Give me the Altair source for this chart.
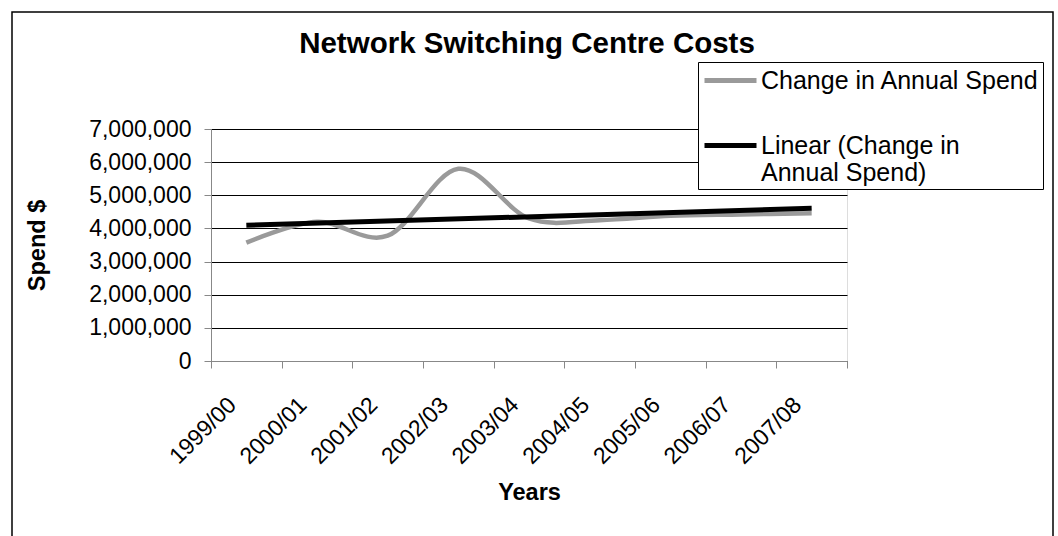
import json
import altair as alt
import pandas as pd

categories = ["1999/00", "2000/01", "2001/02", "2002/03", "2003/04",
              "2004/05", "2005/06", "2006/07", "2007/08"]
spend = [3570000, 4200000, 3780000, 5800000, 4300000,
         4250000, 4380000, 4420000, 4460000]
y_ticks = [0, 1000000, 2000000, 3000000, 4000000, 5000000, 6000000, 7000000]
x_ticks = list(range(len(categories) + 1))
series_names = ["Change in Annual Spend", "Linear (Change in Annual Spend)"]
series_colors = ["#9a9a9a", "#000000"]

df = pd.DataFrame({"idx": list(range(len(categories))), "year": categories, "spend": spend})

FONT = "Liberation Sans"
n = len(categories)
label_expr = f"datum.value < {n} ? {json.dumps(categories)}[datum.value] : ''"
legend_label_expr = (
    f"datum.label == '{series_names[1]}' ? ['Linear (Change in', 'Annual Spend)'] : datum.label"
)

x_enc = alt.X(
    "pos:Q",
    scale=alt.Scale(domain=[0, n], nice=False, zero=False),
    axis=alt.Axis(
        values=x_ticks, labelExpr=label_expr, title="Years", grid=False,
        labelAngle=-45, labelAlign="right", labelBaseline="middle",
        labelOffset=21, labelPadding=33, tickSize=7, labelFontSize=23,
        titleFontSize=23.5, titleFontWeight="bold", titleX=318, titleY=138,
        titleBaseline="alphabetic", titleAnchor="middle", titleAlign="center",
        labelOverlap=False, labelBound=False, labelFlush=False,
    ),
)
y_enc = alt.Y(
    "spend:Q",
    scale=alt.Scale(domain=[0, 7000000], nice=False),
    axis=alt.Axis(
        values=y_ticks, format=",.0f", title="Spend $", tickSize=7, labelPadding=13,
        labelFontSize=23, titleFontSize=23.5, titleFontWeight="bold",
        titleAngle=-90, titleX=-174, titleY=116, titleAlign="center",
        titleBaseline="middle", labelOverlap=False, gridColor="#000000",
    ),
)
color_enc = alt.Color(
    "series:N",
    scale=alt.Scale(domain=series_names, range=series_colors),
    legend=alt.Legend(
        title=None, orient="none", legendX=487, legendY=-67,
        symbolType="M-2,0L2,0", symbolSize=676, symbolStrokeWidth=5,
        symbolOffset=14, labelOffset=15,
        labelFontSize=25, labelFont=FONT, labelLimit=500,
        labelExpr=legend_label_expr, rowPadding=36, gridAlign="none",
        padding=3, strokeColor="#000000", fillColor="#ffffff",
        labelColor="#000000",
    ),
)

frame = alt.Chart(pd.DataFrame({"k": [0]})).mark_rect(
    fill="white", fillOpacity=0, stroke="black", strokeWidth=1.5
).encode(
    x=alt.value(-199), x2=alt.value(842), y=alt.value(-117), y2=alt.value(440)
)

line = alt.Chart(df).transform_calculate(
    pos="datum.idx + 0.5", series=f"'{series_names[0]}'"
).mark_line(interpolate="cardinal", strokeWidth=4.5).encode(
    x=x_enc, y=y_enc, color=color_enc
)

trend = alt.Chart(df).transform_calculate(
    pos="datum.idx + 0.5"
).transform_regression("pos", "spend").transform_calculate(
    series=f"'{series_names[1]}'"
).mark_line(strokeWidth=5).encode(
    x=x_enc, y=y_enc, color=color_enc
)

chart = alt.layer(frame, line, trend).properties(
    width=636, height=232,
    autosize="none",
    padding={"left": 211, "top": 129, "right": 211, "bottom": 175},
    title=alt.Title(
        "Network Switching Centre Costs", font=FONT, fontSize=29.5,
        fontWeight="bold", anchor="middle", baseline="alphabetic",
        offset=0, dy=71, dx=-2, color="#000000",
    ),
).configure_view(
    stroke="#808080", strokeWidth=1.5
).configure_axis(
    labelFont=FONT, titleFont=FONT, labelColor="#000000", titleColor="#000000",
    tickColor="#000000", domainColor="#000000", domainWidth=1.5, tickWidth=1.2,
    gridWidth=1,
).configure(background="white")

chart.save("out.html", embed_options={"renderer": "svg", "actions": False})
